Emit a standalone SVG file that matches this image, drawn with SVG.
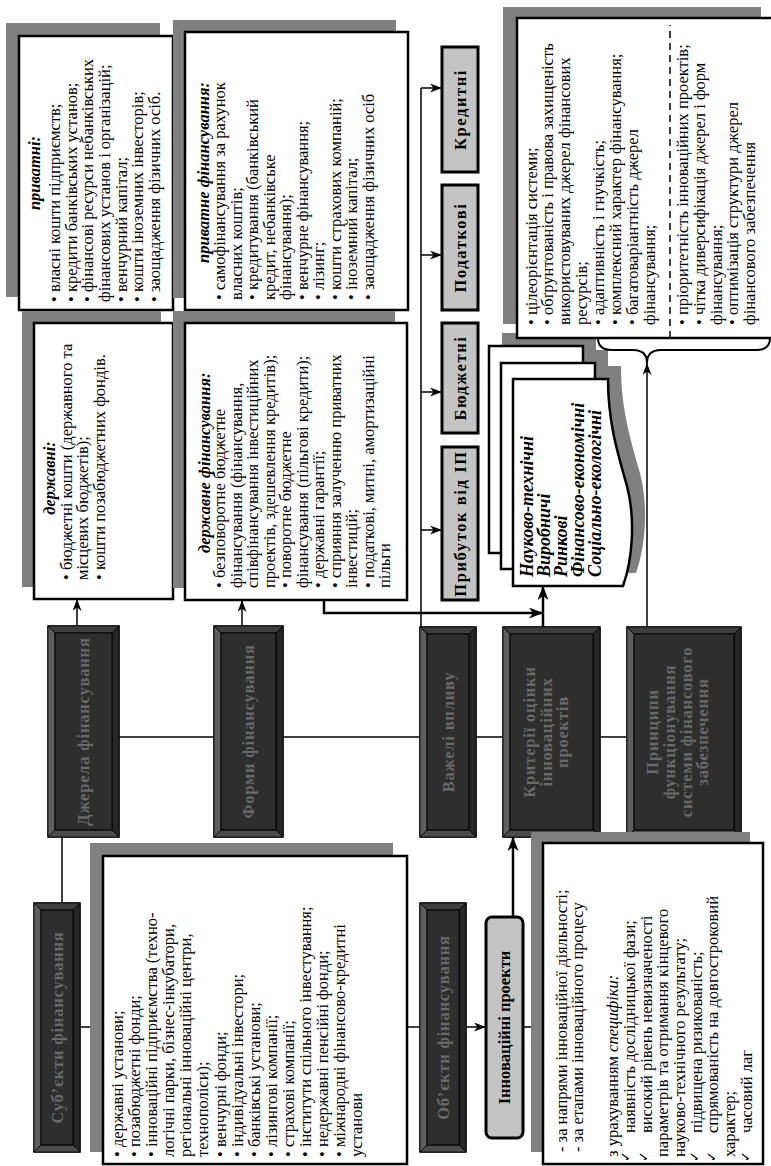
<svg xmlns="http://www.w3.org/2000/svg" width="771" height="1166" viewBox="0 0 771 1166">
<defs>
<style>
.t{font-family:"Liberation Serif","Times New Roman",serif;font-size:16.5px;fill:#000}
.bi{font-weight:bold;font-style:italic}
.it{font-style:italic}
.c{text-anchor:middle}
.sh{fill:#808080}
.bx{fill:#fff;stroke:#000;stroke-width:2.5}
.gb{fill:#c4c4c4;stroke:#000;stroke-width:3}
.ln{fill:none;stroke:#000;stroke-width:1.5}
.lt{fill:none;stroke:#000;stroke-width:2.5}
.a{marker-end:url(#ah)}
.a2{marker-end:url(#ah2)}
.dko{fill:#3a3a3a;stroke:#000;stroke-width:1.5}
.bv1{fill:#5e5e5e;stroke:#000;stroke-width:0.8}
.bv2{fill:#3e3e3e;stroke:#000;stroke-width:0.8}
.bv3{fill:#262626;stroke:#000;stroke-width:0.8}
.bv4{fill:#4c4c4c;stroke:#000;stroke-width:0.8}
.dki{fill:#2e2e2e;stroke:#000;stroke-width:1}
.dt{font-family:"Liberation Serif","Times New Roman",serif;font-size:16.5px;font-weight:bold;fill:#6a6a6a;text-anchor:middle;letter-spacing:0.8px}
.gt{font-family:"Liberation Serif","Times New Roman",serif;font-size:16.5px;font-weight:bold;fill:#000;text-anchor:middle;letter-spacing:1.6px}
.ck{font-family:"DejaVu Sans",sans-serif;font-size:13px;fill:#000}
.dc{font-size:18px}
</style>
<marker id="ah" viewBox="0 0 12 9" refX="12" refY="4.5" markerWidth="12" markerHeight="9" markerUnits="userSpaceOnUse" orient="auto"><path d="M0,0 L12,4.5 L0,9 L3.5,4.5 Z" fill="#000"/></marker>
<marker id="ah2" viewBox="0 0 14 11" refX="14" refY="5.5" markerWidth="14" markerHeight="11" markerUnits="userSpaceOnUse" orient="auto"><path d="M0,0 L14,5.5 L0,11 L4,5.5 Z" fill="#000"/></marker>
</defs>
<g transform="translate(0,1166) rotate(-90)">

<g id="connectors">
<path class="ln" d="M843,77 L856,77"/>
<path class="ln" d="M843,242 L856,242"/>
<path class="ln a" d="M540,77 L567,77"/>
<path class="ln a" d="M540,242 L566,242"/>
<path class="ln" d="M329,62 L263,62"/>
<path class="ln a" d="M139,80 L139,103"/>
<path class="ln" d="M139,407 L139,420"/>
<path class="ln a" d="M139,466 L139,486"/>
<path class="ln a" d="M139,523 L139,543"/>
<path class="lt a2" d="M249,513 L329,513"/>
<path class="ln" d="M429,119 L429,214"/>
<path class="ln" d="M429,283 L429,420"/>
<path class="ln" d="M429,476 L429,503"/>
<path class="ln" d="M429,600 L429,627"/>
<path class="ln" d="M539,421 L1078,421"/>
<path class="ln a" d="M1078,421 L1078,442"/>
<path class="ln a" d="M911,421 L911,442"/>
<path class="ln a" d="M774,421 L774,442"/>
<path class="ln a" d="M636,421 L636,442"/>
<path class="lt a2" d="M566,324 L553,324 L553,543"/>
<path class="lt a2" d="M539,543 L580,543"/>
<path class="ln a" d="M539,647 L803,647"/>
</g>

<g id="private-sources">
<rect class="sh" x="869" y="6" width="274" height="154"/>
<rect class="bx" x="856" y="19" width="274" height="154"/>
<text class="t bi c" x="993" y="40">приватні:</text>
<text class="t"><tspan x="864" y="60">• власні кошти підприємств;</tspan><tspan x="864" y="77">• кредити банківських установ;</tspan><tspan x="864" y="93">• фінансові ресурси небанківських</tspan><tspan x="864" y="110">фінансових установ і організацій;</tspan><tspan x="864" y="127">• венчурний капітал;</tspan><tspan x="864" y="143">• кошти іноземних інвесторів;</tspan><tspan x="864" y="160">• заощадження фізичних осіб.</tspan></text>
</g>

<g id="state-sources">
<rect class="sh" x="579" y="22" width="276" height="139"/>
<rect class="bx" x="567" y="34" width="276" height="139"/>
<text class="t bi c" x="688" y="55">державні:</text>
<text class="t"><tspan x="586" y="72">• бюджетні кошти (державного та</tspan><tspan x="586" y="88">місцевих бюджетів);</tspan><tspan x="586" y="105">• кошти позабюджетних фондів.</tspan></text>
</g>

<g id="private-financing">
<rect class="sh" x="868" y="173" width="278" height="223"/>
<rect class="bx" x="856" y="185" width="278" height="223"/>
<text class="t bi" x="1084" y="209" text-anchor="end">приватне фінансування:</text>
<text class="t"><tspan x="866" y="225">• самофінансування за рахунок</tspan><tspan x="866" y="241.5">власних коштів;</tspan><tspan x="866" y="258">• кредитування (банківський</tspan><tspan x="866" y="274.5">кредит, небанківське</tspan><tspan x="866" y="291">фінансування);</tspan><tspan x="866" y="307.5">• венчурне фінансування;</tspan><tspan x="866" y="324">• лізинг;</tspan><tspan x="866" y="340.5">• кошти страхових компаній;</tspan><tspan x="866" y="357">• іноземний капітал;</tspan><tspan x="866" y="373.5">• заощадження фізичних осіб</tspan></text>
</g>

<g id="state-financing">
<rect class="sh" x="578" y="173" width="277" height="222"/>
<rect class="bx" x="566" y="185" width="277" height="222"/>
<text class="t bi" x="613" y="210">державне фінансування:</text>
<text class="t"><tspan x="578" y="225">• безповоротне бюджетне</tspan><tspan x="578" y="241.5">фінансування (фінансування,</tspan><tspan x="578" y="258">співфінансування інвестиційних</tspan><tspan x="578" y="274.5">проектів, здешевлення кредитів);</tspan><tspan x="578" y="291">• поворотне бюджетне</tspan><tspan x="578" y="307.5">фінансування (пільгові кредити);</tspan><tspan x="578" y="324">• державні гарантії;</tspan><tspan x="578" y="340.5">• сприяння залученню приватних</tspan><tspan x="578" y="357">інвестицій;</tspan><tspan x="578" y="373.5">• податкові, митні, амортизаційні</tspan><tspan x="578" y="390">пільги</tspan></text>
</g>

<g id="sources">
<rect class="dko" x="329" y="48" width="211" height="71"/>
<polygon class="bv1" points="329,48 540,48 533,55 336,55"/>
<polygon class="bv2" points="540,48 540,119 533,112 533,55"/>
<polygon class="bv3" points="329,119 540,119 533,112 336,112"/>
<polygon class="bv4" points="329,48 329,119 336,112 336,55"/>
<rect class="dki" x="336" y="55" width="197" height="57"/>
<text class="dt" x="434.5" y="89">Джерела фінансування</text>
</g>

<g id="subjects">
<rect class="dko" x="14" y="34" width="249" height="46"/>
<polygon class="bv1" points="14,34 263,34 256,41 21,41"/>
<polygon class="bv2" points="263,34 263,80 256,73 256,41"/>
<polygon class="bv3" points="14,80 263,80 256,73 21,73"/>
<polygon class="bv4" points="14,34 14,80 21,73 21,41"/>
<rect class="dki" x="21" y="41" width="235" height="32"/>
<text class="dt" x="138.5" y="63">Суб’єкти фінансування</text>
</g>

<g id="forms">
<rect class="dko" x="329" y="214" width="211" height="69"/>
<polygon class="bv1" points="329,214 540,214 533,221 336,221"/>
<polygon class="bv2" points="540,214 540,283 533,276 533,221"/>
<polygon class="bv3" points="329,283 540,283 533,276 336,276"/>
<polygon class="bv4" points="329,214 329,283 336,276 336,221"/>
<rect class="dki" x="336" y="221" width="197" height="55"/>
<text class="dt" x="434.5" y="254">Форми фінансування</text>
</g>

<g id="levers">
<rect class="dko" x="329" y="420" width="210" height="56"/>
<polygon class="bv1" points="329,420 539,420 532,427 336,427"/>
<polygon class="bv2" points="539,420 539,476 532,469 532,427"/>
<polygon class="bv3" points="329,476 539,476 532,469 336,469"/>
<polygon class="bv4" points="329,420 329,476 336,469 336,427"/>
<rect class="dki" x="336" y="427" width="196" height="42"/>
<text class="dt" x="434" y="454">Важелі впливу</text>
</g>

<g id="criteria">
<rect class="dko" x="329" y="503" width="210" height="97"/>
<polygon class="bv1" points="329,503 539,503 532,510 336,510"/>
<polygon class="bv2" points="539,503 539,600 532,593 532,510"/>
<polygon class="bv3" points="329,600 539,600 532,593 336,593"/>
<polygon class="bv4" points="329,503 329,600 336,593 336,510"/>
<rect class="dki" x="336" y="510" width="196" height="83"/>
<text class="dt"><tspan x="434" y="535">Критерії оцінки</tspan><tspan x="434" y="552">інноваційних</tspan><tspan x="434" y="568">проектів</tspan></text>
</g>

<g id="principles">
<rect class="dko" x="329" y="627" width="210" height="114"/>
<polygon class="bv1" points="329,627 539,627 532,634 336,634"/>
<polygon class="bv2" points="539,627 539,741 532,734 532,634"/>
<polygon class="bv3" points="329,741 539,741 532,734 336,734"/>
<polygon class="bv4" points="329,627 329,741 336,734 336,634"/>
<rect class="dki" x="336" y="634" width="196" height="100"/>
<text class="dt"><tspan x="434" y="658">Принципи</tspan><tspan x="434" y="675">функціонування</tspan><tspan x="434" y="692">системи фінансового</tspan><tspan x="434" y="708">забезпечення</tspan></text>
</g>

<g id="objects">
<rect class="dko" x="14" y="420" width="249" height="46"/>
<polygon class="bv1" points="14,420 263,420 256,427 21,427"/>
<polygon class="bv2" points="263,420 263,466 256,459 256,427"/>
<polygon class="bv3" points="14,466 263,466 256,459 21,459"/>
<polygon class="bv4" points="14,420 14,466 21,459 21,427"/>
<rect class="dki" x="21" y="427" width="235" height="32"/>
<text class="dt" x="138.5" y="449">Об’єкти фінансування</text>
</g>

<g id="subjects-list">
<rect class="sh" x="14" y="90" width="309" height="303"/>
<rect class="bx" x="2" y="103" width="308" height="304"/>
<text class="t"><tspan x="9" y="123">• державні установи;</tspan><tspan x="9" y="140">• позабюджетні фонди;</tspan><tspan x="9" y="157">• інноваційні підприємства (техно-</tspan><tspan x="9" y="174">логічні парки, бізнес-інкубатори,</tspan><tspan x="9" y="191">регіональні інноваційні центри,</tspan><tspan x="9" y="208">технополіси);</tspan><tspan x="9" y="226">• венчурні фонди;</tspan><tspan x="9" y="243">• індивідуальні інвестори;</tspan><tspan x="9" y="260">• банківські установи;</tspan><tspan x="9" y="277">• лізингові компанії;</tspan><tspan x="9" y="294">• страхові компанії;</tspan><tspan x="9" y="311">• інститути спільного інвестування;</tspan><tspan x="9" y="328">• недержавні пенсійні фонди;</tspan><tspan x="9" y="345">• міжнародні фінансово-кредитні</tspan><tspan x="9" y="362">установи</tspan></text>
</g>

<g id="credit"><rect class="gb" x="994" y="442" width="125" height="36"/><text class="gt" x="1056.5" y="466">Кредитні</text></g>
<g id="tax"><rect class="gb" x="856" y="442" width="125" height="36"/><text class="gt" x="918.5" y="466">Податкові</text></g>
<g id="budget"><rect class="gb" x="733" y="442" width="110" height="36"/><text class="gt" x="788" y="466">Бюджетні</text></g>
<g id="profit"><rect class="gb" x="566" y="442" width="153" height="36"/><text class="gt" x="642.5" y="466">Прибуток від ІП</text></g>

<g id="criteria-docs">
<rect class="sh" x="626" y="502" width="207" height="94"/>
<rect class="sh" x="610" y="514" width="206" height="94"/>
<path class="sh" transform="translate(13,13)" d="M580,513 L787,513 L787,608 C745,608 715,617 680,627 C645,636 605,632 580,623 Z"/>
<rect fill="#fff" stroke="#000" stroke-width="2.5" x="613" y="489" width="207" height="94"/>
<rect fill="#fff" stroke="#000" stroke-width="2.5" x="597" y="501" width="206" height="94"/>
<path fill="#fff" stroke="#000" stroke-width="2.5" d="M580,513 L787,513 L787,608 C745,608 715,617 680,627 C645,636 605,632 580,623 Z"/>
<text class="t bi dc"><tspan x="589" y="533">Науково-технічні</tspan><tspan x="589" y="550">Виробничі</tspan><tspan x="589" y="567">Ринкові</tspan><tspan x="589" y="584">Фінансово-економічні</tspan><tspan x="589" y="601">Соціально-екологічні</tspan></text>
</g>

<g id="principles-list">
<rect class="sh" x="842" y="503" width="317" height="258"/>
<rect class="bx" x="828" y="517" width="320" height="270"/>
<path d="M828,670 L1141,670" fill="none" stroke="#000" stroke-width="1.5" stroke-dasharray="7,5"/>
<text class="t"><tspan x="841" y="537">• цілеорієнтація системи;</tspan><tspan x="841" y="553">• обґрунтованість і правова захищеність</tspan><tspan x="841" y="570">використовуваних джерел фінансових</tspan><tspan x="841" y="587">ресурсів;</tspan><tspan x="841" y="604">• адаптивність і гнучкість;</tspan><tspan x="841" y="621">• комплексний характер фінансування;</tspan><tspan x="841" y="638">• багатоваріантність джерел</tspan><tspan x="841" y="655">фінансування;</tspan><tspan x="841" y="688">• пріоритетність інноваційних проектів;</tspan><tspan x="841" y="705">• чітка диверсифікація джерел і форм</tspan><tspan x="841" y="722">фінансування;</tspan><tspan x="841" y="738">• оптимізація структури джерел</tspan><tspan x="841" y="755">фінансового забезпечення</tspan></text>
<path d="M828,598 Q816,598 816,612 L816,633 Q816,647 803,647 Q816,647 816,661 L816,756 Q816,770 828,770" fill="none" stroke="#000" stroke-width="2"/>
</g>

<g id="innovation-projects">
<rect x="28" y="486" width="221" height="37" rx="6" ry="6" fill="#c4c4c4" stroke="#000" stroke-width="3"/>
<text class="t c" x="138.5" y="509.5" font-weight="bold" font-size="15.5">Інноваційні проекти</text>
</g>

<g id="projects-list">
<rect class="sh" x="14" y="531" width="320" height="219"/>
<rect class="bx" x="2" y="543" width="321" height="220"/>
<text class="t"><tspan x="14" y="567">- за напрями інноваційної діяльності;</tspan><tspan x="14" y="583">- за етапами інноваційного процесу</tspan><tspan x="9" y="618">з урахуванням <tspan class="it">специфіки:</tspan></tspan><tspan x="33" y="635">наявність дослідницької фази;</tspan><tspan x="33" y="652">високий рівень невизначеності</tspan><tspan x="9" y="668">параметрів та отримання кінцевого</tspan><tspan x="9" y="685">науково-технічного результату;</tspan><tspan x="33" y="702">підвищена ризикованість;</tspan><tspan x="33" y="718">спрямованість на довгостроковий</tspan><tspan x="9" y="735">характер;</tspan><tspan x="33" y="752">часовий лаг</tspan></text>
<text class="ck"><tspan x="4" y="630">✓</tspan><tspan x="4" y="648">✓</tspan><tspan x="4" y="699">✓</tspan><tspan x="4" y="716">✓</tspan><tspan x="4" y="750">✓</tspan></text>
</g>

</g>
</svg>
